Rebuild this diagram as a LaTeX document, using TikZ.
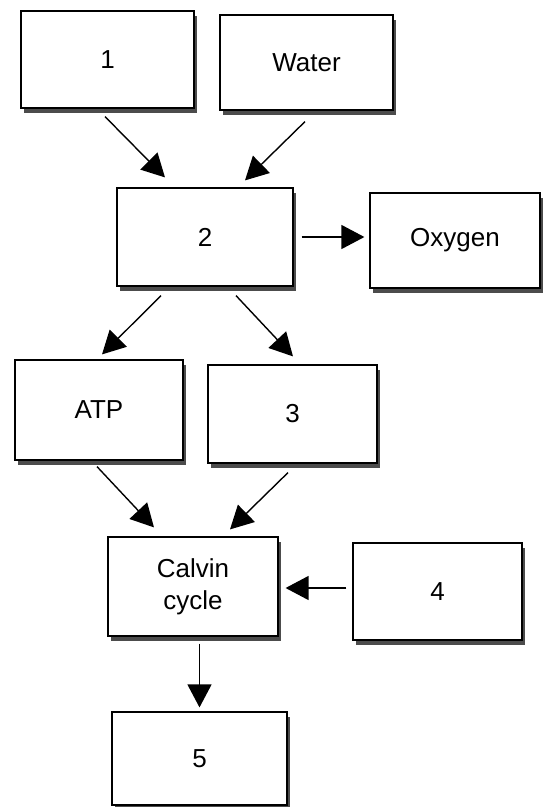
\documentclass[tikz,border=0pt]{standalone}
\usepackage{fontspec}
\setmainfont{Liberation Sans}
\usetikzlibrary{arrows.meta,shadows}
\begin{document}
\begin{tikzpicture}[x=1pt,y=-1pt,
  box/.style={draw=black, line width=1.2pt, fill=white, inner sep=0pt,
    font=\fontsize{26}{32}\selectfont, align=center,
    drop shadow={shadow xshift=2.5pt, shadow yshift=-4.5pt, fill=black!70, opacity=1}},
  arr/.style={line width=1.4pt, -{Triangle[length=23pt,width=24pt]}}]
\useasboundingbox (0,0) rectangle (542,807);
% boxes: centre, size
\node[box, minimum width=173pt, minimum height=97pt] (b1) at (107.5,59.5) {1};
\node[box, minimum width=173pt, minimum height=95pt] (water) at (306.5,62.5) {Water};
\node[box, minimum width=176pt, minimum height=98pt] (b2) at (205,237) {2};
\node[box, minimum width=170pt, minimum height=95pt] (oxy) at (455,240.5) {Oxygen};
\node[box, minimum width=168pt, minimum height=100pt] (atp) at (99,410) {ATP};
\node[box, minimum width=169pt, minimum height=98pt] (b3) at (292.5,414) {3};
\node[box, minimum width=170pt, minimum height=99pt] (calvin) at (193,586.5) {Calvin\\cycle};
\node[box, minimum width=169pt, minimum height=97pt] (b4) at (437.5,591.5) {4};
\node[box, minimum width=175pt, minimum height=93pt] (b5) at (199.5,758.5) {5};
% connectors
\draw[arr] ([xshift=-2.5pt,yshift=-8pt]b1.south) -- ([xshift=-40pt,yshift=10pt]b2.north);
\draw[arr] ([xshift=-1.5pt,yshift=-11pt]water.south) -- ([xshift=40pt,yshift=7pt]b2.north);
\draw[arr] ([xshift=8pt]b2.east) -- ([xshift=-5pt]b2.east -| oxy.west);
\draw[arr] ([xshift=-44pt,yshift=-9pt]b2.south) -- ([xshift=3pt,yshift=5pt]atp.north);
\draw[arr] ([xshift=31pt,yshift=-9pt]b2.south) -- ([xshift=0.5pt,yshift=8pt]b3.north);
\draw[arr] ([xshift=-2pt,yshift=-6pt]atp.south) -- ([xshift=-39pt,yshift=9pt]calvin.north);
\draw[arr] ([xshift=-4.5pt,yshift=-9pt]b3.south) -- ([xshift=37pt,yshift=7pt]calvin.north);
\draw[arr] ([xshift=-6pt,yshift=3.5pt]b4.west) -- ([xshift=7pt,yshift=3.5pt]b4.west -| calvin.east);
\draw[arr] ([yshift=-7pt]calvin.south -| b5.north) -- ([yshift=4pt]b5.north);
\end{tikzpicture}
\end{document}
